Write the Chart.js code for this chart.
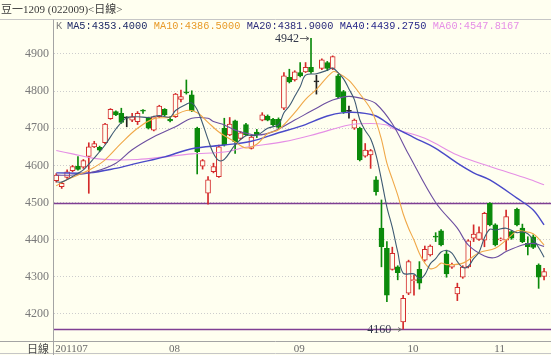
<!DOCTYPE html>
<html>
<head>
<meta charset="utf-8">
<script src="https://cdn.jsdelivr.net/npm/chart.js@4"></script>
<style>
  html, body { margin: 0; padding: 0; background: #FFFFF0; }
  #wrap { width: 551px; height: 355px; }
</style>
</head>
<body>
<div id="wrap"><canvas id="kChart" width="551" height="355"></canvas></div>
<script>
// Daily candles, 2011-07 .. 2011-11 (index = trading day)
const openP = [4559,4543,4568,4586,4598,4595,4624,4650,4649,4661,
  4726,4745,4740,4729,4722,4718,4749,4727,4695,4731,
  4751,4724,4731,4778,4798,4790,4700,4598,4525,4583,
  4570,4700,4682,4720,4673,4710,4646,4690,4722,4733,
  4724,4724,4754,4837,4830,4850,4852,4864,4826,4861,
  4877,4861,4841,4799,4747,4700,4700,4625,4628,4561,
  4431,4377,4320,4327,4179,4256,4290,4320,4345,4359,
  4409,4424,4362,4326,4254,4299,4327,4404,4401,4399,
  4498,4440,4400,4399,4422,4482,4431,4390,4408,4332,
  4301];
const highP = [4578,4555,4588,4600,4624,4616,4661,4665,4652,4713,
  4753,4747,4754,4731,4740,4745,4750,4730,4733,4762,
  4753,4731,4794,4803,4830,4801,4703,4616,4570,4606,
  4655,4727,4729,4722,4691,4713,4679,4697,4742,4736,
  4727,4728,4850,4859,4855,4877,4877,4942,4843,4887,
  4880,4895,4845,4802,4760,4725,4703,4659,4643,4570,
  4507,4395,4380,4330,4250,4345,4305,4341,4383,4386,
  4419,4427,4372,4337,4283,4330,4400,4440,4435,4474,
  4500,4443,4405,4480,4425,4485,4442,4408,4413,4335,
  4323];
const lowP = [4555,4538,4565,4583,4587,4592,4525,4648,4637,4658,
  4724,4734,4713,4704,4718,4710,4740,4698,4693,4729,
  4734,4717,4729,4771,4792,4745,4577,4590,4496,4580,
  4568,4652,4680,4632,4670,4680,4644,4675,4720,4720,
  4706,4698,4750,4822,4827,4838,4850,4848,4792,4858,
  4855,4858,4782,4740,4727,4697,4612,4622,4592,4520,
  4327,4233,4318,4292,4160,4252,4251,4267,4342,4356,
  4395,4383,4299,4323,4236,4296,4324,4395,4398,4381,
  4437,4383,4397,4372,4401,4437,4392,4359,4376,4269,
  4292];
const closeP = [4574,4552,4583,4597,4589,4613,4650,4659,4641,4711,
  4751,4736,4716,4729,4731,4740,4746,4700,4731,4760,
  4736,4720,4792,4785,4795,4747,4637,4613,4561,4597,
  4650,4655,4711,4664,4688,4682,4676,4683,4736,4722,
  4710,4702,4841,4825,4852,4841,4864,4852,4826,4884,
  4861,4893,4785,4745,4747,4722,4615,4641,4640,4529,
  4381,4251,4363,4311,4242,4341,4292,4283,4374,4383,
  4407,4386,4308,4334,4272,4326,4397,4415,4419,4471,
  4440,4386,4402,4462,4404,4440,4395,4381,4379,4299,
  4314];

// moving averages (candle index, value)
const ma5Idx = [0,1,3,4,5,7,9,11,13,15,17,19,21,22,24,25,26,27,28,29,30,31,33,35,37,39,41,42,43,44,45,46,48,50,51,52,53,54,55,56,57,58,59,60,61,62,63,64,66,67,68,69,70,71,72,73,74,75,76,77,78,79,80,81,83,85,86,87,88,89,90];
const ma5Val = [4556,4555,4570,4579,4588,4620,4655,4698,4728,4731,4729,4734,4730,4748,4765,4768,4750,4713,4670,4632,4613,4616,4655,4680,4681,4700,4710,4742,4760,4786,4812,4843,4847,4856,4862,4850,4833,4806,4777,4723,4694,4672,4628,4561,4488,4433,4367,4310,4308,4295,4306,4335,4349,4367,4371,4364,4341,4325,4328,4349,4366,4405,4428,4426,4431,4419,4421,4416,4400,4379,4353];
const ma10Idx = [0,2,5,7,9,12,15,18,21,24,26,28,30,33,35,37,39,41,44,46,48,51,52,54,56,58,59,60,61,62,63,64,65,66,67,68,69,70,71,72,75,78,81,83,85,86,88,90];
const ma10Val = [4545,4562,4580,4595,4615,4660,4700,4726,4730,4748,4742,4716,4690,4663,4647,4657,4686,4696,4742,4778,4805,4852,4849,4829,4793,4752,4718,4670,4606,4563,4520,4470,4431,4399,4363,4337,4322,4325,4337,4333,4337,4365,4377,4399,4424,4423,4416,4386];
const ma20Idx = [0,3,7,11,14,18,22,25,28,29,31,33,37,40,44,48,51,54,57,59,62,65,70,74,76,79,81,83,86,88,90];
const ma20Val = [4574,4574,4583,4606,4642,4677,4704,4727,4727,4718,4709,4695,4682,4691,4722,4754,4776,4786,4778,4766,4712,4630,4500,4431,4386,4356,4352,4368,4386,4390,4382];
const ma40Idx = [0,6,11,15,20,25,31,36,41,45,50,53,56,59,62,66,70,74,77,80,85,88,90];
const ma40Val = [4580,4580,4592,4606,4623,4645,4655,4665,4688,4705,4733,4742,4742,4733,4705,4675,4646,4606,4580,4561,4512,4480,4440];
const ma60Idx = [0,3,7,11,15,20,25,31,35,42,48,54,58,61,62,68,74,80,87,90];
const ma60Val = [4640,4631,4619,4615,4616,4623,4631,4636,4649,4664,4685,4709,4713,4709,4700,4673,4628,4597,4564,4548];

const maNames = ['MA5', 'MA10', 'MA20', 'MA40', 'MA60'];
const maLast = [4353.4, 4386.5, 4381.9, 4439.275, 4547.8167];

const monthTicks = [0, 21, 44, 65, 81];
const monthLabels = ['201107', '08', '09', '10', '11'];
const yTicks = [4200, 4300, 4400, 4500, 4600, 4700, 4800, 4900];
const refLines = [4500, 4160];

const BG = '#FFFFF0';
const UP = '#D42A2A';
const DOWN = '#0B8A0B';
const FLAT = '#202020';
const maColors = ['#3E5A73', '#F0A848', '#6C4FA0', '#4A4AC8', '#E58FE5'];
const maTextColors = ['#1E2A66', '#E89A28', '#2A2A7A', '#2A2A8A', '#E68FE6'];

function candleColor(i) {
  if (closeP[i] > openP[i]) return UP;
  if (closeP[i] < openP[i]) return DOWN;
  return FLAT;
}

const idx = closeP.map((_, i) => i);
const colors = idx.map(candleColor);

const wickData = idx.map(i => ({ x: i, y: [lowP[i], highP[i]] }));
const bodyData = idx.map(i => {
  const lo = Math.min(openP[i], closeP[i]);
  const hi = Math.max(openP[i], closeP[i]);
  if (hi - lo < 3) {
    const mid = (hi + lo) / 2;
    return { x: i, y: [mid - 1.5, mid + 1.5] };
  }
  return { x: i, y: [lo, hi] };
});

function maPoints(xs, ys) {
  return xs.map((x, k) => ({ x: x, y: ys[k] }));
}
const maSets = [
  maPoints(ma5Idx, ma5Val),
  maPoints(ma10Idx, ma10Val),
  maPoints(ma20Idx, ma20Val),
  maPoints(ma40Idx, ma40Val),
  maPoints(ma60Idx, ma60Val)
];

function markExtreme(ctx, xs, ys, text) {
  ctx.save();
  ctx.font = '12px "Liberation Serif"';
  ctx.fillStyle = '#33384A';
  ctx.textAlign = 'right';
  ctx.textBaseline = 'middle';
  ctx.fillText(text, xs - 12, ys + 0.5);
  ctx.strokeStyle = '#6A6A6A';
  ctx.lineWidth = 1;
  const yy = Math.round(ys) + 0.5;
  ctx.beginPath();
  ctx.moveTo(xs - 11, yy);
  ctx.lineTo(xs - 2, yy);
  ctx.moveTo(xs - 2, yy);
  ctx.lineTo(xs - 5, yy - 2);
  ctx.moveTo(xs - 2, yy);
  ctx.lineTo(xs - 5, yy + 2);
  ctx.stroke();
  ctx.restore();
}

const decorPlugin = {
  id: 'decor',
  beforeDraw(chart) {
    const ctx = chart.ctx;
    ctx.save();
    ctx.fillStyle = BG;
    ctx.fillRect(0, 0, chart.width, chart.height);
    ctx.restore();
  },
  beforeDatasetsDraw(chart) {
    const { ctx, chartArea, scales } = chart;
    ctx.save();
    ctx.strokeStyle = '#7F3F93';
    ctx.lineWidth = 1.3;
    refLines.forEach(v => {
      const y = Math.round(scales.y.getPixelForValue(v)) + 0.5;
      ctx.beginPath();
      ctx.moveTo(chartArea.left, y);
      ctx.lineTo(chartArea.right, y);
      ctx.stroke();
    });
    ctx.restore();
  },
  afterDatasetsDraw(chart) {
    const { ctx, scales } = chart;
    let hi = 0, lo = 0;
    highP.forEach((v, i) => { if (v > highP[hi]) hi = i; });
    lowP.forEach((v, i) => { if (v < lowP[lo]) lo = i; });
    markExtreme(ctx, scales.x.getPixelForValue(hi), scales.y.getPixelForValue(highP[hi]), String(highP[hi]));
    markExtreme(ctx, scales.x.getPixelForValue(lo), scales.y.getPixelForValue(lowP[lo]), String(lowP[lo]));
  },
  afterDraw(chart) {
    const { ctx, chartArea } = chart;
    const W = chart.width, H = chart.height;
    ctx.save();
    // frame
    ctx.lineWidth = 1;
    ctx.strokeStyle = '#C6C6C6';
    ctx.beginPath();
    ctx.moveTo(0, 19.5); ctx.lineTo(W, 19.5);
    ctx.moveTo(0, H - 1.5); ctx.lineTo(W, H - 1.5);
    ctx.stroke();
    ctx.strokeStyle = '#A4A4A4';
    ctx.beginPath();
    ctx.moveTo(chartArea.left - 0.5, 19.5); ctx.lineTo(chartArea.left - 0.5, H);
    ctx.moveTo(0, chartArea.bottom + 0.5); ctx.lineTo(W, chartArea.bottom + 0.5);
    ctx.stroke();

    // title
    ctx.textBaseline = 'middle';
    ctx.textAlign = 'left';
    ctx.font = '11px "Liberation Serif", "Noto Sans CJK SC"';
    ctx.fillStyle = '#3A3A3A';
    ctx.fillText('豆一1209 (022009)<日線>', 1, 10);

    // MA legend row
    ctx.font = '10.3px "Liberation Mono"';
    ctx.fillStyle = '#808080';
    ctx.fillText('K', chartArea.left + 2, 26);
    let x = chartArea.left + 13;
    maNames.forEach((n, k) => {
      const s = n + ':' + maLast[k].toFixed(4);
      ctx.fillStyle = maTextColors[k];
      ctx.fillText(s, x, 26);
      x += ctx.measureText(s).width + 6.5;
    });

    // bottom-left caption
    ctx.font = '11px "Noto Sans CJK SC"';
    ctx.fillStyle = '#4A4A4A';
    ctx.textAlign = 'right';
    ctx.fillText('日線', chartArea.left - 5, chartArea.bottom + 7.5);
    ctx.restore();
  }
};

const datasets = [
  {
    type: 'bar',
    data: bodyData,
    backgroundColor: idx.map(i => closeP[i] > openP[i] ? BG : colors[i]),
    borderColor: colors,
    borderWidth: 1,
    borderSkipped: false,
    barThickness: 5,
    grouped: false,
    order: 1
  },
  {
    type: 'bar',
    data: wickData,
    backgroundColor: colors,
    borderWidth: 0,
    barThickness: 1,
    grouped: false,
    order: 2
  }
];
maSets.forEach((pts, k) => {
  datasets.push({
    type: 'line',
    data: pts,
    borderColor: maColors[k],
    borderWidth: k === 3 ? 1.4 : 1.1,
    pointRadius: 0,
    tension: 0.35,
    fill: false,
    order: 0
  });
});

new Chart(document.getElementById('kChart').getContext('2d'), {
  type: 'bar',
  data: { datasets: datasets },
  plugins: [decorPlugin],
  options: {
    responsive: false,
    animation: false,
    events: [],
    layout: { padding: { top: 20, left: 0, right: 0, bottom: 0 } },
    plugins: {
      legend: { display: false },
      tooltip: { enabled: false }
    },
    scales: {
      x: {
        type: 'linear',
        min: -0.42,
        max: 91.28,
        offset: false,
        afterFit: axis => { axis.height = 14; },
        afterBuildTicks: axis => { axis.ticks = monthTicks.map(v => ({ value: v })); },
        grid: { display: false, drawTicks: false },
        border: { display: false },
        ticks: {
          autoSkip: false,
          maxRotation: 0,
          align: 'start',
          labelOffset: -1,
          padding: 2,
          color: '#6A6A6A',
          font: { family: 'Liberation Serif', size: 11 },
          callback: v => monthLabels[monthTicks.indexOf(v)]
        }
      },
      y: {
        min: 4127.3,
        max: 4991.5,
        afterFit: axis => { axis.width = 54; },
        afterBuildTicks: axis => { axis.ticks = yTicks.map(v => ({ value: v })); },
        grid: { color: '#CDCDCD', lineWidth: 1, drawTicks: false },
        border: { display: false, dash: [1, 2] },
        ticks: {
          padding: 5,
          color: '#7A7A7A',
          font: { family: 'Liberation Serif', size: 12 },
          callback: v => String(v)
        }
      }
    }
  }
});
</script>
</body>
</html>
